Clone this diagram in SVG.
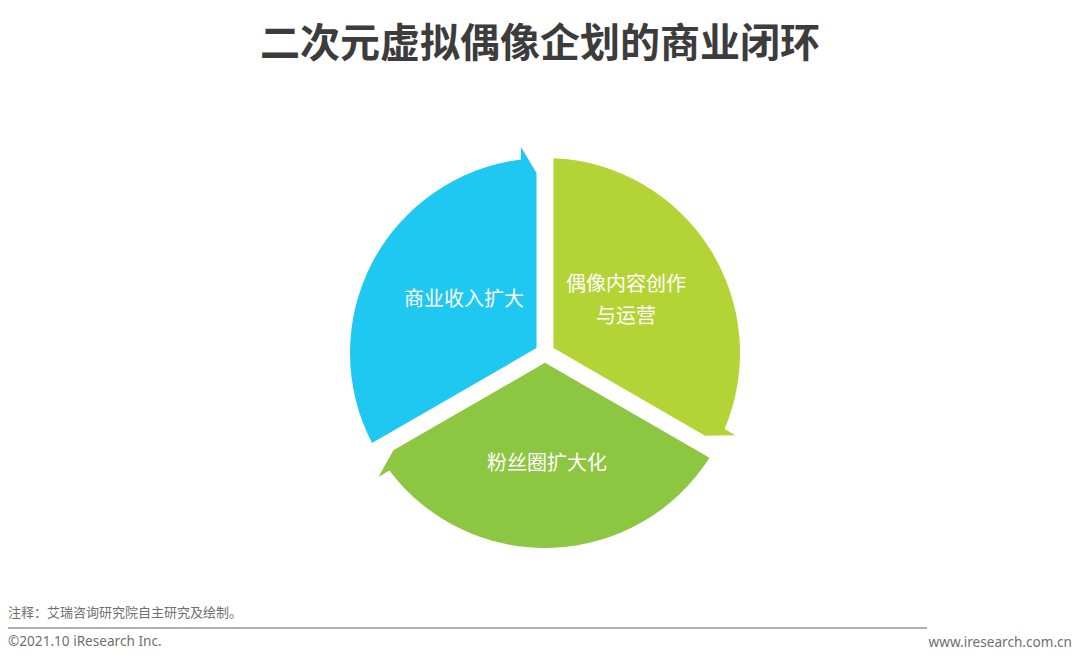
<svg xmlns="http://www.w3.org/2000/svg" width="1080" height="663" viewBox="0 0 1080 663">
<style>
.title{font-family:"Noto Sans CJK SC","Noto Sans",sans-serif;font-weight:bold;font-size:40px;fill:#3c3c3c}
.lbl{font-family:"Noto Sans CJK SC","Noto Sans",sans-serif;font-size:20px;fill:#ffffff}
.foot{font-family:"Noto Sans CJK SC","Noto Sans",sans-serif;font-size:13px;fill:#707070}
.foot2{font-family:"Noto Sans","Noto Sans CJK SC",sans-serif;font-size:13.6px;fill:#707070}
</style>
<rect width="1080" height="663" fill="#ffffff"/>
<text class="title" x="540" y="57" text-anchor="middle">二次元虚拟偶像企划的商业闭环</text>
<g id="connectors"></g>
<g id="node-revenue">
<path d="M536.5,348.09 L372.04,443.05 A195,195 0 0 1 521,159.48 L521,147 L536.5,173 Z" fill="#1fc8f1"/>
<text class="lbl" x="464" y="305.5" text-anchor="middle">商业收入扩大</text>
</g>
<g id="node-content">
<path d="M553.5,348.09 L553.5,158.19 A195,195 0 0 1 724.59,428.98 L735.4,435.22 L705.13,435.64 Z" fill="#b4d334"/>
<text class="lbl" x="626" y="290.5" text-anchor="middle">偶像内容创作</text>
<text class="lbl" x="626" y="322.5" text-anchor="middle">与运营</text>
</g>
<g id="node-fans">
<path d="M545,362.82 L709.46,457.77 A195,195 0 0 1 389.41,470.54 L378.6,476.78 L393.37,450.36 Z" fill="#8dc641"/>
<text class="lbl" x="547" y="469.5" text-anchor="middle">粉丝圈扩大化</text>
</g>
<text class="foot" x="8" y="617">注释：艾瑞咨询研究院自主研究及绘制。</text>
<line x1="8" y1="628" x2="927" y2="628" stroke="#b0b0b0" stroke-width="2"/>
<text class="foot2" x="8" y="646">©2021.10 iResearch Inc.</text>
<text class="foot2" x="1072" y="647" text-anchor="end">www.iresearch.com.cn</text>
</svg>
